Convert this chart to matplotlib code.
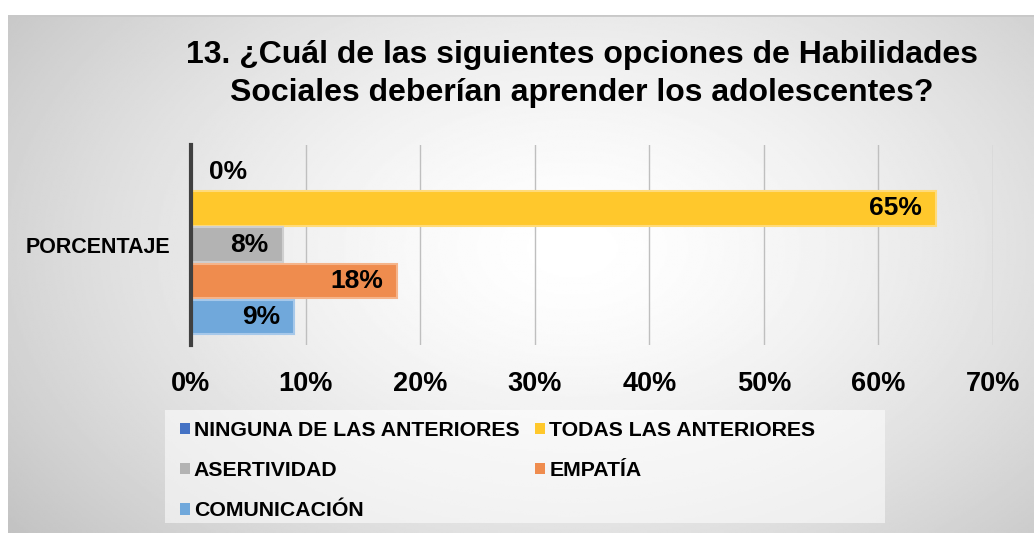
import numpy as np
import matplotlib.pyplot as plt
from matplotlib.patches import Rectangle

plt.rcParams['font.family'] = ['Liberation Sans', 'DejaVu Sans']
plt.rcParams['font.weight'] = 'bold'

# Datos
categorias = ["NINGUNA DE LAS ANTERIORES", "TODAS LAS ANTERIORES", "ASERTIVIDAD",
              "EMPATÍA", "COMUNICACIÓN"]
valores = [0, 65, 8, 18, 9]
colores = ['#4472C4', '#FFC82C', '#B3B3B3', '#EF8C4E', '#70A8DB']
bordes = ['#8FA8DC', '#FFDB7A', '#CFCFCF', '#F5B48A', '#A6C8EA']
ticks = [0, 10, 20, 30, 40, 50, 60, 70]
titulo = "13. ¿Cuál de las siguientes opciones de Habilidades\nSociales deberían aprender los adolescentes?"

fig = plt.figure(figsize=(10.34, 5.33), dpi=100)
fig.patch.set_facecolor('white')

# Fondo con degradado radial
bg = fig.add_axes([8 / 1034, 0, 1 - 8 / 1034, 1 - 15 / 533])
yy, xx = np.mgrid[0:1:300j, 0:1:600j]
r = np.sqrt(((xx - 0.55) / 0.7) ** 2 + ((yy - 0.45) / 0.9) ** 2)
grad = 1 - 0.24 * np.clip(r, 0, 1) ** 1.5
bg.imshow(grad, cmap='gray', vmin=0, vmax=1, aspect='auto', extent=(0, 1, 0, 1))
bg.axhline(1, color='#c8c8c8', lw=2)
bg.axis('off')

ax = fig.add_axes([191 / 1034, 1 - 345 / 533, (993 - 191) / 1034, 200 / 533])
ax.patch.set_alpha(0)
pos = np.arange(len(valores))
barras = []
for i, (v, c, b) in enumerate(zip(valores, colores, bordes)):
    barras.append(ax.barh(pos[i], v, height=0.95, color=c, edgecolor=b, lw=1.5,
                          label=categorias[i], zorder=3))
    if v == 0:
        ax.annotate(f"{v}%", (v, pos[i]), xytext=(13, 0), textcoords='offset points',
                    ha='left', va='center', fontsize=19, fontweight='bold', zorder=4)
    else:
        ax.annotate(f"{v}%", (v, pos[i]), xytext=(-10, 0), textcoords='offset points',
                    ha='right', va='center', fontsize=19, fontweight='bold', zorder=4)

ax.set_xlim(0, 70)
ax.set_ylim(4.77, -0.745)
ax.set_xticks(ticks)
ax.set_xticklabels([f"{t}%" for t in ticks], fontsize=19.5, fontweight='bold')
ax.tick_params(axis='x', length=0, pad=19)
ax.set_yticks([2])
ax.set_yticklabels(["PORCENTAJE"], fontsize=15.5, fontweight='bold')
ax.tick_params(axis='y', length=0, pad=15)
ax.grid(axis='x', color='#bfbfbf', lw=1, zorder=0)
for s in ['top', 'right', 'bottom']:
    ax.spines[s].set_visible(False)
ax.spines['left'].set_color('#404040')
ax.spines['left'].set_linewidth(3)
ax.spines['left'].set_zorder(5)

fig.text(0.563, 1 - 74 / 533, titulo, ha='center', va='center', fontsize=23,
         fontweight='bold', linespacing=1.32)

# Caja de la leyenda
fig.patches.append(Rectangle((165 / 1034, 1 - 523 / 533), 720 / 1034, 113 / 533,
                             transform=fig.transFigure, facecolor='white',
                             alpha=0.55, edgecolor='none', zorder=1))

orden = [0, 2, 4, 1, 3]
leg = fig.legend([barras[i] for i in orden], [categorias[i] for i in orden],
                 ncol=2, loc='upper left', bbox_to_anchor=(180 / 1034, 1 - 421 / 533),
                 prop={'size': 15.3, 'weight': 'bold'},
                 handlelength=0.45, handleheight=0.45, handletextpad=0.2,
                 labelspacing=1.0, columnspacing=0.75, borderaxespad=0,
                 borderpad=0, frameon=False)
for h in leg.legend_handles:
    h.set_edgecolor('none')

fig.savefig("out.png", dpi=100)
